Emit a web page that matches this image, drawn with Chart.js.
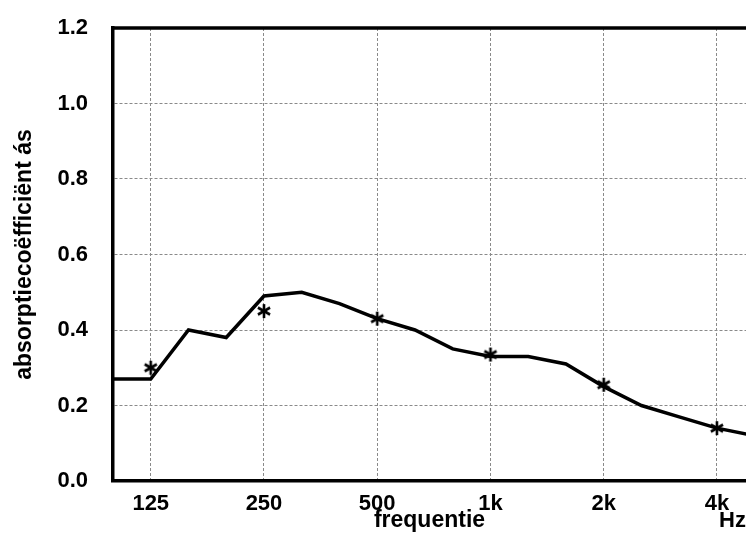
<!DOCTYPE html>
<html>
<head>
<meta charset="utf-8">
<script src="https://cdn.jsdelivr.net/npm/chart.js@4/dist/chart.umd.min.js"></script>
<style>
  html, body { margin: 0; padding: 0; background: #fff; overflow: hidden; }
  canvas { display: block; }
</style>
</head>
<body>
<canvas id="graph0" width="746" height="535"></canvas>
<script>
// third-octave bands shown on the axis (100 Hz .. 5 kHz)
const bands = ["100","125","160","200","250","315","400","500","630","800","1k","1.25k","1.6k","2k","2.5k","3.15k","4k","5k"];
const thirdOctaveValues = [0.27,0.27,0.40,0.38,0.49,0.50,0.47,0.43,0.40,0.35,0.33,0.33,0.31,0.25,0.20,0.17,0.14,0.12];

// octave values (stars)
const octaveBands = ["125","250","500","1k","2k","4k"];
const octaveValues = [0.30,0.45,0.43,0.335,0.255,0.14];

const yTicks = [0.0,0.2,0.4,0.6,0.8,1.0,1.2];

const fontFamily = "'Liberation Sans', Arial, sans-serif";

function main(){
    createChart()
}

// six armed asterisk used as point style
function makeStar(size){
    const c = document.createElement("canvas");
    c.width = size;
    c.height = size;
    const ctx = c.getContext("2d");
    const r = size / 2 - 1;
    ctx.translate(size / 2, size / 2);
    ctx.strokeStyle = "#000";
    ctx.lineWidth = 2.6;
    ctx.lineCap = "butt";
    for (let k = 0; k < 3; k++) {
        const ang = Math.PI / 2 + k * Math.PI / 3;
        ctx.beginPath();
        ctx.moveTo(Math.cos(ang) * r, Math.sin(ang) * r);
        ctx.lineTo(-Math.cos(ang) * r, -Math.sin(ang) * r);
        ctx.stroke();
    }
    return c;
}

function zeroPadding(scale){
    scale.paddingTop = 0;
    scale.paddingBottom = 0;
    scale.paddingLeft = 0;
    scale.paddingRight = 0;
}

function createChart(){
    const lineData = thirdOctaveValues.map((v, i) => ({x: i, y: v}));
    const starData = octaveValues.map((v, i) => ({x: bands.indexOf(octaveBands[i]), y: v}));
    const octaveIdx = octaveBands.map(b => bands.indexOf(b));

    // top frame line and the "Hz" unit label
    const extras = {
        id: "extras",
        afterDraw(chart){
            const ctx = chart.ctx;
            const a = chart.chartArea;
            ctx.save();
            ctx.strokeStyle = "#000";
            ctx.lineWidth = 3.5;
            ctx.beginPath();
            ctx.moveTo(a.left - 1.75, a.top);
            ctx.lineTo(chart.width, a.top);
            ctx.stroke();
            ctx.fillStyle = "#000";
            ctx.font = "bold 22px " + fontFamily;
            ctx.textAlign = "left";
            ctx.textBaseline = "middle";
            ctx.fillText("Hz", 719, 521);
            ctx.restore();
        }
    };

    new Chart("graph0", {
        type: "line",
        data: {
            datasets: [{
                data: lineData,
                borderColor: "#000",
                borderWidth: 3.5,
                pointRadius: 0,
                tension: 0,
                fill: false
            },{
                data: starData,
                showLine: false,
                pointStyle: makeStar(16),
                pointRadius: 8,
                borderColor: "#000",
                backgroundColor: "#000"
            }]
        },
        options: {
            responsive: false,
            animation: false,
            layout: {autoPadding: false, padding: {top: 28, right: 0, bottom: 0, left: 0}},
            plugins: {
                legend: {display: false},
                tooltip: {enabled: false}
            },
            scales: {
                x: {
                    type: "linear",
                    min: 0,
                    max: 16.77,
                    afterBuildTicks: (scale) => { scale.ticks = octaveIdx.map(v => ({value: v})); },
                    afterFit: (scale) => { scale.height = 54; zeroPadding(scale); },
                    ticks: {
                        color: "#000",
                        padding: 10,
                        maxRotation: 0,
                        autoSkip: false,
                        font: {family: fontFamily, size: 22, weight: "bold"},
                        callback: (v) => bands[v]
                    },
                    grid: {color: "#8a8a8a", lineWidth: 1, drawTicks: false},
                    border: {display: true, color: "#000", width: 3.5, dash: [3, 2]},
                    title: {
                        display: true,
                        text: "frequentie",
                        color: "#000",
                        padding: {top: 0, bottom: 1},
                        font: {family: fontFamily, size: 23, weight: "bold"}
                    }
                },
                y: {
                    min: 0,
                    max: 1.2,
                    afterBuildTicks: (scale) => { scale.ticks = yTicks.map(v => ({value: v})); },
                    afterFit: (scale) => { scale.width = 113; zeroPadding(scale); },
                    ticks: {
                        color: "#000",
                        padding: 25,
                        font: {family: fontFamily, size: 22, weight: "bold"},
                        callback: (v) => v.toFixed(1)
                    },
                    grid: {color: "#8a8a8a", lineWidth: 1, drawTicks: false},
                    border: {display: true, color: "#000", width: 3.5, dash: [3, 2]},
                    title: {
                        display: true,
                        text: "absorptiecoëfficiënt ás",
                        color: "#000",
                        padding: {top: 11, bottom: 0},
                        font: {family: fontFamily, size: 23, weight: "bold"}
                    }
                }
            }
        },
        plugins: [extras]
    });
}

main()
</script>
</body>
</html>
